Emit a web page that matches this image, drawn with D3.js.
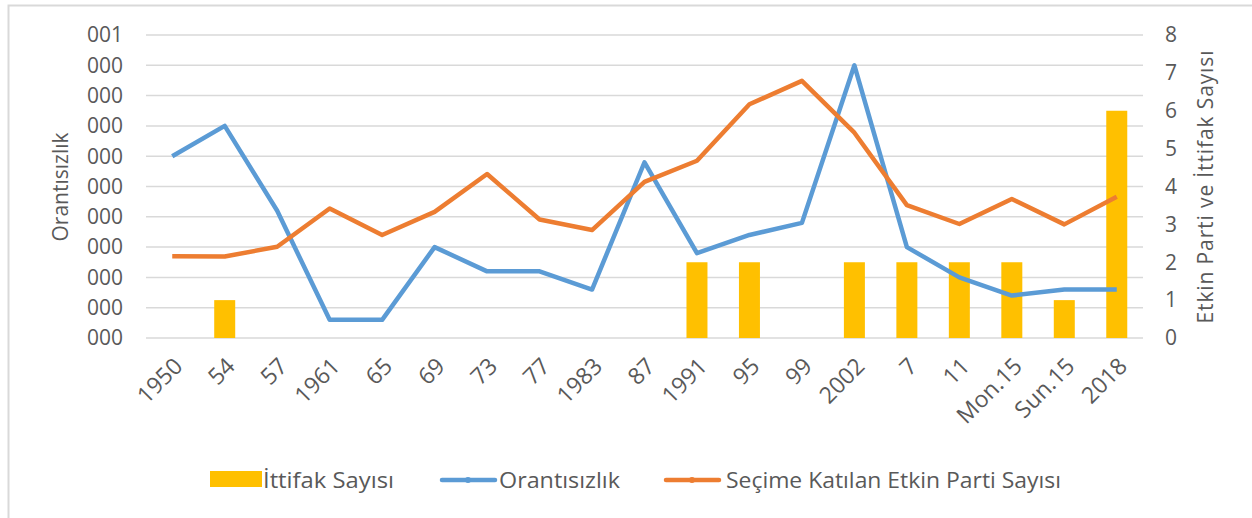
<!DOCTYPE html>
<head>
<meta charset="utf-8">
<script src="https://d3js.org/d3.v7.min.js"></script>
<style>
  body { margin: 0; background: #fff; }
  svg { display: block; font-family: "Open Sans", sans-serif; }
</style>
</head>
<body>
<script>
const years = ["1950", "54", "57", "1961", "65", "69", "73", "77", "1983", "87", "1991", "95", "99", "2002", "7", "11", "Mon.15", "Sun.15", "2018"];
const orantisizlik = [6.0, 7.0, 4.2, 0.6, 0.6, 3.0, 2.2, 2.2, 1.6, 5.8, 2.8, 3.4, 3.8, 9.0, 3.0, 2.0, 1.4, 1.6, 1.6];
const etkinParti = [2.16, 2.15, 2.41, 3.42, 2.72, 3.33, 4.33, 3.13, 2.85, 4.12, 4.68, 6.17, 6.79, 5.42, 3.51, 3.01, 3.67, 3.0, 3.73];
const ittifak = [0, 1, 0, 0, 0, 0, 0, 0, 0, 0, 2, 2, 0, 2, 2, 2, 2, 1, 6];
const leftTicks = ["000", "000", "000", "000", "000", "000", "000", "000", "000", "000", "001"];
const rightTicks = [0, 1, 2, 3, 4, 5, 6, 7, 8];

const W = 1252, H = 518;
const svg = d3.select("body").append("svg").attr("width", W).attr("height", H);

const textCol = "#595959", gridCol = "#D9D9D9";

// chart frame
svg.append("rect")
    .attr("x", 8.5).attr("y", 5.5)
    .attr("width", W + 20).attr("height", H + 20)
    .attr("fill", "none").attr("stroke", gridCol).attr("stroke-width", 2);

const pLeft = 146, pRight = 1143, pTop = 35, pBottom = 338;

const x = d3.scaleBand().domain(years).range([pLeft, pRight]);
const yL = d3.scaleLinear().domain([0, 10]).range([pBottom, pTop]);
const yR = d3.scaleLinear().domain([0, 8]).range([pBottom, pTop]);

// gridlines
svg.append("g")
    .selectAll("line")
    .data(d3.range(0, 11))
    .enter().append("line")
    .attr("x1", pLeft).attr("x2", pRight)
    .attr("y1", d => yL(d)).attr("y2", d => yL(d))
    .attr("stroke", gridCol).attr("stroke-width", 1.5);

// left axis labels
svg.append("g")
    .selectAll("text")
    .data(leftTicks)
    .enter().append("text")
    .attr("x", 123)
    .attr("y", (d, i) => yL(i))
    .attr("dy", "0.35em")
    .attr("text-anchor", "end")
    .attr("font-size", 21)
    .attr("fill", textCol)
    .text(d => d);

// right axis labels
svg.append("g")
    .selectAll("text")
    .data(rightTicks)
    .enter().append("text")
    .attr("x", 1165)
    .attr("y", d => yR(d))
    .attr("dy", "0.35em")
    .attr("text-anchor", "start")
    .attr("font-size", 21)
    .attr("fill", textCol)
    .text(d => d);

// axis titles
svg.append("text")
    .attr("transform", "translate(68,187) rotate(-90)")
    .attr("text-anchor", "middle")
    .attr("font-size", 21)
    .attr("fill", textCol)
    .text("Orantısızlık");

svg.append("text")
    .attr("transform", "translate(1213,187) rotate(-90)")
    .attr("text-anchor", "middle")
    .attr("font-size", 21)
    .attr("textLength", 273)
    .attr("fill", textCol)
    .text("Etkin Parti ve İttifak Sayısı");

// x labels
svg.append("g")
    .selectAll("text")
    .data(years)
    .enter().append("text")
    .attr("transform", d => `translate(${x(d) + x.bandwidth() / 2 + 6},362) rotate(-45)`)
    .attr("text-anchor", "end")
    .attr("dy", "0.35em")
    .attr("font-size", 23)
    .attr("fill", textCol)
    .text(d => d);

// bars
const bw = 21;
svg.append("g")
    .selectAll("rect")
    .data(ittifak)
    .enter().append("rect")
    .attr("x", (d, i) => x(years[i]) + x.bandwidth() / 2 - bw / 2)
    .attr("y", d => yR(d))
    .attr("width", bw)
    .attr("height", d => pBottom - yR(d))
    .attr("fill", "#FFC000");

// lines
const cx = i => x(years[i]) + x.bandwidth() / 2;
const lineL = d3.line().x((d, i) => cx(i)).y(d => yL(d));
const lineR = d3.line().x((d, i) => cx(i)).y(d => yR(d));

svg.append("path")
    .datum(orantisizlik)
    .attr("d", lineL)
    .attr("fill", "none")
    .attr("stroke", "#5B9BD5")
    .attr("stroke-width", 4.5)
    .attr("stroke-linejoin", "round");

svg.append("path")
    .datum(etkinParti)
    .attr("d", lineR)
    .attr("fill", "none")
    .attr("stroke", "#ED7D31")
    .attr("stroke-width", 4.5)
    .attr("stroke-linejoin", "round");

// legend
const lg = svg.append("g");
lg.append("rect").attr("x", 210).attr("y", 471).attr("width", 52).attr("height", 16).attr("fill", "#FFC000");
lg.append("text").attr("x", 263).attr("y", 488).attr("font-size", 22).attr("fill", textCol)
    .attr("textLength", 131).attr("lengthAdjust", "spacingAndGlyphs").text("İttifak Sayısı");

lg.append("line").attr("x1", 442).attr("x2", 495).attr("y1", 480).attr("y2", 480)
    .attr("stroke", "#5B9BD5").attr("stroke-width", 4.5).attr("stroke-linecap", "round");
lg.append("circle").attr("cx", 468).attr("cy", 480).attr("r", 3).attr("fill", "#5B9BD5");
lg.append("text").attr("x", 499).attr("y", 488).attr("font-size", 22).attr("fill", textCol)
    .attr("textLength", 121).attr("lengthAdjust", "spacingAndGlyphs").text("Orantısızlık");

lg.append("line").attr("x1", 666).attr("x2", 719).attr("y1", 480).attr("y2", 480)
    .attr("stroke", "#ED7D31").attr("stroke-width", 4.5).attr("stroke-linecap", "round");
lg.append("circle").attr("cx", 692).attr("cy", 480).attr("r", 3).attr("fill", "#ED7D31");
lg.append("text").attr("x", 726).attr("y", 488).attr("font-size", 22).attr("fill", textCol)
    .attr("textLength", 335).attr("lengthAdjust", "spacingAndGlyphs").text("Seçime Katılan Etkin Parti Sayısı");
</script>
</body>
